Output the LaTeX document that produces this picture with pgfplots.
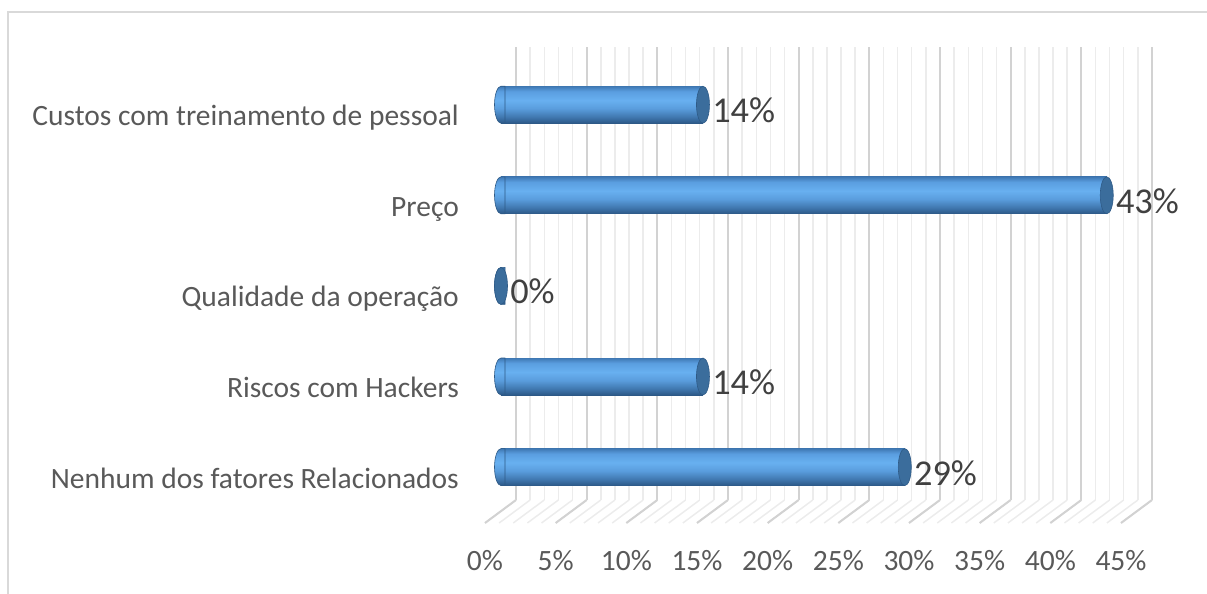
\documentclass[border=0pt]{standalone}
\usepackage{pgfplots}
\usepackage{pgfplotstable}
\pgfplotsset{compat=1.18}
\usepackage{fontspec}
\setmainfont{Carlito}

\definecolor{tickgray}{HTML}{595959}
\definecolor{lblgray}{HTML}{404040}
\definecolor{majgrid}{HTML}{D2D2D2}
\definecolor{mingrid}{HTML}{ECECEC}
\definecolor{framegray}{HTML}{D9D9D9}
\definecolor{capblue}{HTML}{3B6D9C}
\definecolor{capedge}{HTML}{2E5A86}
\definecolor{cylA}{HTML}{2C5886}
\definecolor{cylB}{HTML}{3F76AD}
\definecolor{cylC}{HTML}{5A9DDD}
\definecolor{cylD}{HTML}{68B0F0}
\definecolor{cylE}{HTML}{5A9EE0}
\definecolor{cylF}{HTML}{3F78B3}

% cylinder shading, bottom -> top (visible part 25bp..75bp)
\pgfdeclareverticalshading{cyl}{100bp}{color(0bp)=(cylA); color(25bp)=(cylA); color(33bp)=(cylB); color(45bp)=(cylC); color(56bp)=(cylD); color(68bp)=(cylE); color(75bp)=(cylF); color(100bp)=(cylF)}

% left end: left half of an ellipse, shaded like the body
\pgfdeclareplotmark{lcap}{%
  \pgfpathmoveto{\pgfqpoint{4bp}{18.5bp}}%
  \pgfpathlineto{\pgfqpoint{0bp}{18.5bp}}%
  \pgfpatharc{90}{270}{6.5bp and 18.5bp}%
  \pgfpathlineto{\pgfqpoint{4bp}{-18.5bp}}%
  \pgfpathclose
  \pgfshadepath{cyl}{0}%
  \pgfpathmoveto{\pgfqpoint{0bp}{18.5bp}}%
  \pgfpatharc{90}{270}{6.5bp and 18.5bp}%
  \pgfusepath{stroke}}
\pgfdeclareplotmark{rcap}{%
  \pgfpathellipse{\pgfpointorigin}{\pgfqpoint{6.5bp}{0bp}}{\pgfqpoint{0bp}{18.5bp}}%
  \pgfusepath{fill,stroke}}

% idx 0 = bottom category
\pgfplotstableread{
idx val
0 28.57
1 14.29
2 0
3 42.86
4 14.29
}\data

\begin{document}
\begin{tikzpicture}
\path[use as bounding box] (0,0) rectangle (1207bp,594bp);
\draw[framegray, line width=1.5bp] (8bp,0) -- (8bp,582bp) -- (1207bp,582bp);
\begin{axis}[
  at={(516bp,94bp)}, anchor=south west,
  scale only axis, width=636bp, height=453bp,
  xmin=0, xmax=45, ymin=-0.49, ymax=4.51,
  clip=false,
  axis line style={draw=none},
  tick style={draw=none},
  xtick={0,5,...,45},
  xticklabels={0\%,5\%,10\%,15\%,20\%,25\%,30\%,35\%,40\%,45\%},
  minor x tick num=4,
  xmajorgrids, xminorgrids,
  major grid style={majgrid, line width=2bp},
  minor grid style={mingrid, line width=1.5bp},
  ytick={0,...,4},
  yticklabels={Nenhum dos fatores Relacionados,Riscos com Hackers,Qualidade da operação,Preço,Custos com treinamento de pessoal},
  ticklabel style={font=\fontsize{29.6}{35}\selectfont, text=tickgray},
  xticklabel style={anchor=base, inner sep=0pt, xshift=-31bp, yshift=-70.5bp},
  yticklabel style={anchor=base east, inner sep=0pt, xshift=-57bp, yshift=-32.5bp},
  shiftbar/.style={xshift=-15bp, yshift=-11.5bp},
  cylbar/.style={xbar, bar width=37bp, bar shift=0pt, draw=none, shade, shading=cyl, shiftbar},
]
% floor
\pgfplotsinvokeforeach{0,...,45}{\draw[mingrid, line width=1.5bp] (axis cs:#1,-0.49) -- ++(-31bp,-23bp);}
\pgfplotsinvokeforeach{0,5,...,45}{\draw[majgrid, line width=2bp] (axis cs:#1,-0.49) -- ++(-31bp,-23bp);}

% left ends of the cylinders
\addplot[only marks, mark=lcap, mark options={draw=capedge, line width=0.6bp}, shiftbar]
  table[x expr=0, y=idx] {\data};
% bodies (one path each so every bar gets its own shading; the 0 bar has no body)
\pgfplotsinvokeforeach{0,1,3,4}{
  \addplot[cylbar, restrict expr to domain={\coordindex}{#1:#1}] table[x=val, y=idx] {\data};
}
% right caps and value labels
\addplot[only marks, mark=rcap, mark options={fill=capblue, draw=capedge, line width=0.6bp}, shiftbar,
  point meta=x,
  nodes near coords={\pgfmathprintnumber[fixed, precision=0, assume math mode=true]{\pgfplotspointmeta}\%},
  nodes near coords style={anchor=base west, inner sep=0pt, xshift=9bp, yshift=-18bp,
    font=\fontsize{36.5}{44}\selectfont, text=lblgray}]
  table[x=val, y=idx] {\data};
\end{axis}
\end{tikzpicture}
\end{document}
